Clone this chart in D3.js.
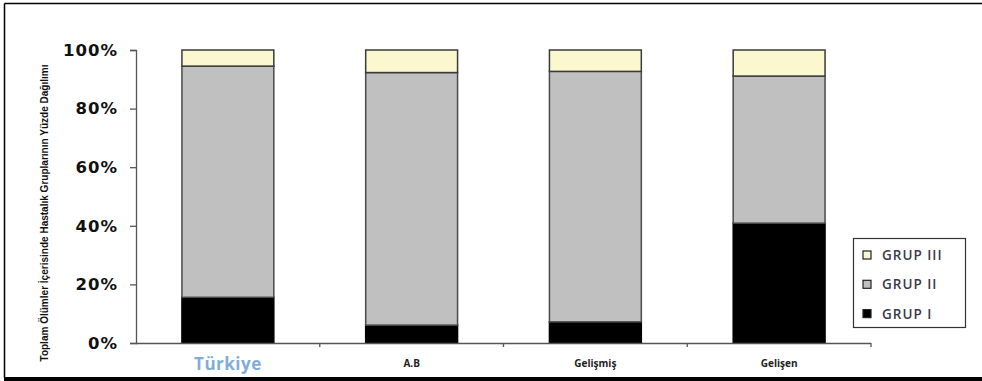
<!DOCTYPE html>
<html><head><meta charset="utf-8">
<script src="https://cdn.jsdelivr.net/npm/d3@7"></script>
<style>body{margin:0;background:#fff}svg{display:block}</style>
</head><body>
<svg id="c" width="982" height="381"></svg>
<script>
const categories = ["Türkiye", "A.B", "Gelişmiş", "Gelişen"];
const grupI   = [15.6, 6.1, 7.2, 40.9];
const grupII  = [78.9, 86.2, 85.5, 50.2];
const grupIII = [5.5, 7.7, 7.3, 8.9];
const seriesNames = ["GRUP I", "GRUP II", "GRUP III"];
const yTicks = [0, 20, 40, 60, 80, 100];
const yTitle = "Toplam Ölümler İçerisinde Hastalık Gruplarının Yüzde Dağılımı";

const colors = {"GRUP I": "#000000", "GRUP II": "#c0c0c0", "GRUP III": "#fbf8d0"};
const strokes = {"GRUP I": "#000", "GRUP II": "#4a4a4a", "GRUP III": "#3a3a3a"};

const svg = d3.select("#c");
// frame
svg.append("line").attr("x1",4.5).attr("x2",982).attr("y1",3.5).attr("y2",3.5).attr("stroke","#000").attr("stroke-width",1.5);
svg.append("line").attr("x1",4.5).attr("x2",4.5).attr("y1",3.5).attr("y2",378).attr("stroke","#000").attr("stroke-width",1.5);
svg.append("rect").attr("x",4).attr("y",377).attr("width",978).attr("height",4).attr("fill","#000");

const x0 = 136, x1 = 871, yTop = 50, yBot = 343;
const x = d3.scaleBand().domain(categories).range([x0, x1]).paddingInner(0.5).paddingOuter(0.25);
const y = d3.scaleLinear().domain([0, 100]).range([yBot, yTop]);

const table = categories.map((c, i) => ({cat: c, "GRUP I": grupI[i], "GRUP II": grupII[i], "GRUP III": grupIII[i]}));
const stack = d3.stack().keys(seriesNames)(table);

const g = svg.append("g");
stack.forEach(s => {
  g.selectAll(null).data(s).enter().append("rect")
    .attr("x", d => x(d.data.cat))
    .attr("width", x.bandwidth())
    .attr("y", d => y(d[1]))
    .attr("height", d => y(d[0]) - y(d[1]))
    .attr("fill", colors[s.key])
    .attr("stroke", strokes[s.key])
    .attr("stroke-width", 1.5);
});

// y axis
const yAxis = d3.axisLeft(y).tickValues(yTicks).tickFormat(d => d + "%").tickSize(6).tickPadding(12);
const ya = svg.append("g").attr("transform", `translate(${x0},0)`).call(yAxis);
ya.select(".domain").attr("stroke", "#555").attr("stroke-width", 1.3);
ya.selectAll(".tick line").attr("stroke", "#555").attr("stroke-width", 1.3);
ya.selectAll("text").attr("font-family", "DejaVu Sans").attr("font-weight", "bold").attr("font-size", 16.5)
  .attr("letter-spacing", 1).attr("fill", "#111");

// x axis
const xa = svg.append("g").attr("transform", `translate(0,${yBot})`);
xa.append("line").attr("x1", x0).attr("x2", x1).attr("y1", 0.5).attr("y2", 0.5).attr("stroke", "#555").attr("stroke-width", 1.3);
const bounds = categories.slice(1).map(c => x(c) - x.step() * x.paddingInner() / 2).concat([x1]);
xa.selectAll(".bt").data(bounds).enter().append("line")
  .attr("x1", d => d).attr("x2", d => d).attr("y1", 0).attr("y2", 4)
  .attr("stroke", "#555").attr("stroke-width", 1.3);
xa.selectAll(".cl").data(categories).enter().append("text")
  .attr("x", d => x(d) + x.bandwidth() / 2)
  .attr("y", (d, i) => i === 0 ? 27 : 24)
  .attr("text-anchor", "middle")
  .attr("font-family", "Open Sans, DejaVu Sans")
  .attr("font-weight", "bold")
  .attr("font-size", (d, i) => i === 0 ? 17 : 10)
  .attr("letter-spacing", (d, i) => i === 0 ? 0.5 : 0)
  .attr("fill", (d, i) => i === 0 ? "#7fadd8" : "#222")
  .text(d => d);

// y title
svg.append("text")
  .attr("transform", "translate(48,213) rotate(-90)")
  .attr("text-anchor", "middle")
  .attr("font-family", "Liberation Sans Narrow, Liberation Sans, Arial")
  .attr("font-weight", "bold")
  .attr("font-size", 10.5)
  .attr("textLength", 297)
  .attr("lengthAdjust", "spacingAndGlyphs")
  .attr("fill", "#111")
  .text(yTitle);

// legend
const lg = svg.append("g");
lg.append("rect").attr("x", 853.5).attr("y", 238.5).attr("width", 112).attr("height", 89)
  .attr("fill", "#fff").attr("stroke", "#333").attr("stroke-width", 1.2);
const legendOrder = ["GRUP III", "GRUP II", "GRUP I"];
legendOrder.forEach((k, i) => {
  const cy = 255 + i * 29.3;
  lg.append("rect").attr("x", 863).attr("y", cy - 4).attr("width", 8).attr("height", 8)
    .attr("fill", colors[k]).attr("stroke", "#222").attr("stroke-width", 1.2);
  lg.append("text").attr("x", 882).attr("y", cy + 5)
    .attr("font-family", "Open Sans, DejaVu Sans").attr("font-size", 13.5).attr("font-weight", 600).attr("fill", "#3a3a4a")
    .attr("letter-spacing", 1)
    .text(k);
});
</script>
</body></html>
